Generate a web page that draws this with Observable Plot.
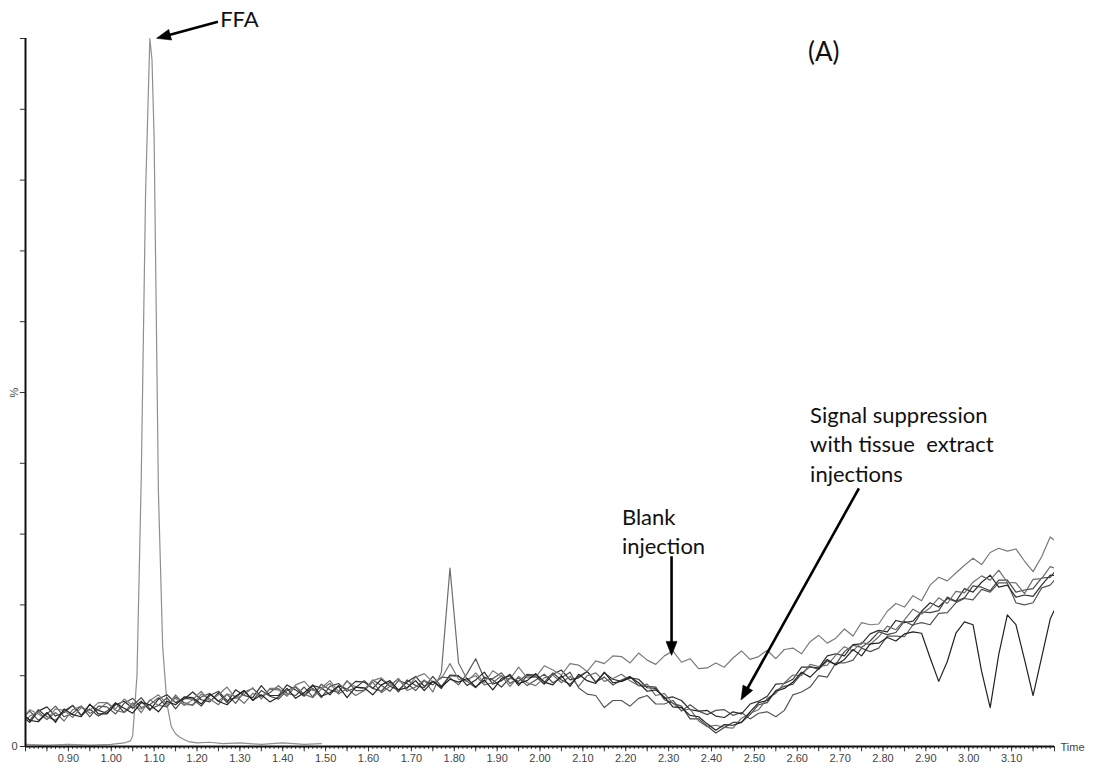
<!DOCTYPE html>
<html>
<head>
<meta charset="utf-8">
<script src="https://cdn.jsdelivr.net/npm/d3@7"></script>
<script src="https://cdn.jsdelivr.net/npm/@observablehq/plot@0.6"></script>
<style>
  html, body { margin: 0; padding: 0; background: #fff; }
  #chart { width: 1094px; height: 771px; }
</style>
</head>
<body>
<div id="chart"></div>
<script>
// ---- sampling grid of the traces (min) ----
const startTime = 0.79;
const timeStep = 0.02;

// ---- FFA standard trace (time, %) ----
const ffaTime = [0.80, 0.85, 0.90, 0.95, 1.00, 1.03, 1.045, 1.05, 1.06, 1.07, 1.08, 1.09, 1.095, 1.10, 1.11, 1.12, 1.13, 1.14, 1.15, 1.16, 1.17, 1.18, 1.20, 1.23, 1.26, 1.30, 1.35, 1.40, 1.45, 1.49];
const ffaValue = [0.3, 0.2, 0.3, 0.2, 0.3, 0.5, 0.8, 1.5, 10, 38, 78, 100, 97, 86, 36, 14, 6, 2.8, 1.8, 1.3, 1.0, 0.7, 0.5, 0.6, 0.4, 0.5, 0.3, 0.5, 0.3, 0.4];

// ---- post-column infusion traces (%), one value per sampling step ----
const blankInjection = [
  3.7, 5.2, 4.6, 3.8, 5.3, 5.1, 4.1, 5.5, 5.1, 6.2,
  6.2, 5.3, 6.7, 5.8, 5.3, 6.5, 7.3, 6.0, 6.8, 5.8,
  6.6, 7.8, 6.4, 7.3, 8.4, 6.8, 7.3, 8.3, 6.7, 8.2,
  8.2, 7.2, 8.7, 9.2, 7.9, 8.3, 9.3, 7.8, 9.2, 8.4,
  8.1, 9.3, 9.7, 8.6, 9.6, 8.2, 9.8, 10.3, 9.1, 9.6,
  11.7, 9.5, 9.2, 10.4, 9.0, 10.7, 9.9, 9.5, 11.2, 9.7,
  9.8, 11.4, 10.8, 10.1, 11.7, 11.5, 10.6, 12.1, 11.7, 12.8,
  12.7, 11.8, 13.2, 12.2, 11.6, 12.8, 13.5, 11.9, 12.4, 11.0,
  11.1, 11.8, 11.2, 12.5, 13.5, 12.3, 12.7, 13.6, 12.4, 13.7,
  13.9, 13.1, 14.8, 15.7, 14.6, 15.3, 16.6, 15.6, 17.5, 17.2,
  17.3, 19.1, 20.2, 19.7, 21.3, 20.6, 22.8, 23.9, 23.4, 24.5,
  25.6, 26.6, 25.7, 27.4, 28.0, 27.6, 27.9, 26.2, 24.7, 26.8, 29.6, 28.6
];
const tissuePeak = [
  3.1, 4.3, 4.9, 3.8, 4.8, 3.6, 5.2, 5.7, 4.7, 5.2,
  6.2, 5.1, 4.8, 6.2, 4.8, 6.6, 5.8, 5.6, 7.3, 5.9,
  5.9, 7.4, 6.7, 5.9, 7.4, 7.1, 6.1, 7.5, 7.0, 8.1,
  8.0, 7.1, 8.5, 7.4, 6.9, 8.1, 8.9, 7.4, 8.2, 7.2,
  7.9, 9.1, 7.6, 8.5, 9.6, 7.9, 8.4, 9.4, 7.7, 10.5,
  25.2, 11.8, 9.5, 10.0, 8.7, 9.0, 10.0, 8.5, 9.9, 9.0,
  8.6, 9.7, 10.1, 9.0, 9.9, 8.5, 10.0, 10.4, 9.2, 9.6,
  10.2, 9.3, 8.6, 8.8, 7.2, 7.5, 6.1, 5.1, 5.3, 3.6,
  2.8, 3.0, 2.7, 2.6, 4.0, 4.7, 5.2, 6.8, 7.5, 9.0,
  10.1, 10.0, 11.6, 11.3, 11.5, 12.9, 14.1, 13.5, 14.7, 14.4,
  15.5, 17.0, 16.5, 17.9, 19.4, 18.7, 19.6, 21.0, 20.2, 21.9,
  21.7, 23.2, 24.1, 23.5, 24.9, 23.2, 23.1, 21.6, 23.6, 23.7, 25.4, 25.0
];
const tissueDips = [
  4.8, 3.7, 3.5, 4.8, 3.4, 5.3, 4.5, 4.2, 6.0, 4.6,
  4.6, 6.1, 5.4, 4.7, 6.2, 5.9, 4.9, 6.4, 5.9, 7.0,
  6.9, 6.0, 7.4, 6.4, 5.9, 7.1, 7.9, 6.5, 7.3, 6.3,
  7.0, 8.2, 6.8, 7.6, 8.7, 7.1, 7.6, 8.5, 6.9, 8.4,
  8.3, 7.3, 8.7, 9.3, 8.0, 8.3, 9.3, 7.9, 9.2, 8.4,
  9.5, 9.1, 9.6, 8.4, 9.4, 8.0, 9.6, 10.0, 8.9, 9.3,
  10.3, 9.1, 8.7, 10.0, 8.5, 10.2, 9.3, 8.9, 10.5, 9.0,
  9.2, 9.8, 9.0, 7.8, 8.0, 7.0, 5.6, 5.5, 4.4, 4.2,
  3.2, 2.3, 3.1, 3.0, 3.4, 4.9, 6.2, 6.5, 7.8, 8.2,
  9.1, 10.5, 9.8, 11.0, 12.3, 11.5, 12.3, 13.7, 12.8, 14.5,
  14.6, 15.4, 14.9, 15.9, 16.2, 16.0, 12.5, 9.2, 12.0, 16.0,
  17.6, 17.2, 10.6, 5.5, 13.0, 18.6, 17.2, 12.3, 7.2, 12.6, 18.0, 20.6
];
const tissueOffset = [
  3.8, 5.0, 3.7, 4.6, 5.7, 4.2, 4.7, 5.7, 4.2, 5.7,
  5.6, 4.6, 6.1, 6.8, 5.5, 5.9, 6.9, 5.6, 7.0, 6.2,
  5.8, 7.0, 7.5, 6.4, 7.4, 6.1, 7.7, 8.2, 7.1, 7.6,
  8.6, 7.5, 7.2, 8.4, 7.0, 8.8, 8.0, 7.6, 9.3, 7.9,
  7.9, 9.4, 8.6, 7.8, 9.3, 8.9, 7.9, 9.3, 8.7, 9.8,
  9.7, 8.7, 10.3, 12.4, 9.6, 9.6, 10.4, 8.9, 9.7, 8.6,
  9.4, 10.2, 9.0, 9.7, 10.5, 8.3, 7.4, 7.2, 5.5, 6.5,
  6.5, 5.7, 6.8, 7.2, 6.0, 6.0, 6.5, 5.0, 5.9, 5.0,
  4.5, 5.1, 5.2, 4.4, 4.8, 3.9, 4.7, 4.9, 4.2, 5.1,
  7.3, 7.7, 8.4, 10.0, 9.8, 11.8, 11.8, 12.2, 13.9, 13.4,
  13.9, 15.6, 15.6, 15.5, 17.2, 17.5, 17.2, 18.8, 18.9, 20.3,
  20.9, 20.7, 22.2, 21.8, 23.1, 23.1, 20.3, 20.0, 20.3, 22.4, 22.8, 24.2
];
const tissueShallow = [
  4.4, 3.4, 5.0, 5.6, 4.3, 4.8, 5.8, 4.4, 5.9, 5.1,
  4.7, 5.9, 6.4, 5.4, 6.4, 5.1, 6.7, 7.3, 6.2, 6.7,
  7.7, 6.6, 6.3, 7.6, 6.2, 8.0, 7.2, 6.9, 8.6, 7.2,
  7.2, 8.7, 8.0, 7.1, 8.6, 8.3, 7.3, 8.6, 8.1, 9.2,
  9.1, 8.2, 9.5, 8.5, 8.0, 9.1, 9.9, 8.5, 9.2, 8.2,
  10.1, 10.0, 8.6, 9.4, 10.5, 8.8, 9.3, 10.2, 8.6, 10.0,
  9.9, 8.8, 10.2, 10.8, 9.4, 9.7, 10.6, 9.1, 10.4, 9.5,
  9.2, 9.7, 9.5, 8.3, 8.2, 6.8, 7.0, 6.5, 5.2, 5.0,
  5.1, 4.3, 4.1, 4.9, 4.6, 6.0, 6.4, 7.1, 8.8, 8.9,
  9.5, 11.2, 11.2, 11.1, 12.8, 13.1, 12.8, 14.4, 14.5, 15.9,
  16.4, 16.2, 17.8, 17.5, 17.7, 19.1, 20.3, 19.7, 20.9, 20.5,
  22.3, 21.8, 23.2, 24.2, 22.5, 22.8, 21.1, 21.4, 21.2, 22.8, 24.2, 24.1
];
const tissueDeep = [
  4.6, 3.7, 5.2, 4.2, 3.7, 5.0, 5.8, 4.4, 5.3, 4.3,
  5.0, 6.2, 4.8, 5.8, 6.9, 5.3, 5.8, 6.9, 5.3, 6.8,
  6.7, 5.7, 7.2, 7.8, 6.5, 6.9, 7.9, 6.5, 7.9, 7.1,
  6.7, 7.9, 8.4, 7.2, 8.2, 6.9, 8.5, 8.9, 7.8, 8.3,
  9.3, 8.2, 7.8, 9.1, 7.7, 9.4, 8.6, 8.3, 9.9, 8.5,
  10.0, 9.9, 9.2, 8.3, 9.8, 9.4, 8.4, 9.7, 9.2, 10.2,
  10.1, 9.1, 10.4, 9.4, 8.8, 9.9, 10.6, 9.1, 9.8, 8.7,
  9.4, 9.9, 8.6, 8.5, 8.4, 6.6, 6.1, 5.7, 3.9, 3.9,
  2.9, 1.9, 2.7, 3.4, 3.4, 4.5, 5.9, 6.2, 7.9, 8.5,
  8.8, 10.3, 11.3, 10.9, 12.1, 11.6, 13.4, 14.3, 14.0, 14.9,
  16.2, 15.8, 16.1, 17.7, 17.1, 19.0, 18.9, 19.2, 21.1, 20.5,
  21.0, 22.7, 22.5, 22.0, 23.5, 23.5, 21.8, 22.1, 22.3, 23.8, 23.9, 25.4
];

// ---- axis tick labels ----
const xTickLabels = ["0.90", "1.00", "1.10", "1.20", "1.30", "1.40", "1.50", "1.60", "1.70", "1.80", "1.90",
  "2.00", "2.10", "2.20", "2.30", "2.40", "2.50", "2.60", "2.70", "2.80", "2.90", "3.00", "3.10"];
const xAxisTitle = "Time";
const yTickValues = [0, 10, 20, 30, 40, 50, 60, 70, 80, 90, 100];
const yZeroLabel = "0";
const yAxisTitle = "%";

// ---- annotations (anchored in data units: time, %) ----
const labelTexts = ["FFA", "Blank\ninjection", "Signal suppression\nwith tissue  extract\ninjections"];
const labelTimes = [1.254, 2.191, 2.630];
const labelPercents = [103.0, 30.6, 42.9];
const panelLabel = "(A)";
const panelTime = 2.625, panelPercent = 98.0;
const arrowFromTime = [1.250, 2.308, 2.745];
const arrowFromPercent = [102.3, 26.8, 36.4];
const arrowToTime = [1.107, 2.308, 2.470];
const arrowToPercent = [99.95, 12.8, 6.5];

// ---- build tables ----
const ffaRows = ffaTime.map((t, i) => ({t, v: ffaValue[i]}));
const toRows = (values) => values.map((v, i) => ({t: +(startTime + i * timeStep).toFixed(3), v}));
const traceDefs = [
  {values: tissueOffset, color: "#555555"},
  {values: tissueShallow, color: "#2e2e2e"},
  {values: tissueDeep, color: "#444444"},
  {values: tissuePeak, color: "#6e6e6e"},
  {values: blankInjection, color: "#7a7a7a"},
  {values: tissueDips, color: "#222222"}
];
const labels = labelTexts.map((text, i) => ({text, t: labelTimes[i], p: labelPercents[i]}));
const arrows = arrowFromTime.map((t1, i) => ({t1, p1: arrowFromPercent[i], t2: arrowToTime[i], p2: arrowToPercent[i]}));

const minorTicks = d3.range(80, 321, 1).map(d => d / 100);
const midTicks = d3.range(80, 321, 5).map(d => d / 100);

const font = "'Liberation Sans', Arial, sans-serif";
const annoFont = "Lato, 'Open Sans', sans-serif";

// arrows with filled heads, placed through the plot's own x/y scales
function filledArrows(index, scales) {
  const g = d3.create("svg:g").attr("fill", "#000").attr("stroke", "#000");
  arrows.forEach(a => {
    const x1 = scales.x(a.t1), y1 = scales.y(a.p1), x2 = scales.x(a.t2), y2 = scales.y(a.p2);
    const ang = Math.atan2(y2 - y1, x2 - x1);
    const len = 14, half = 5.5;
    const bx = x2 - len * Math.cos(ang), by = y2 - len * Math.sin(ang);
    const px = -Math.sin(ang) * half, py = Math.cos(ang) * half;
    g.append("line").attr("x1", x1).attr("y1", y1).attr("x2", bx + 2 * Math.cos(ang)).attr("y2", by + 2 * Math.sin(ang)).attr("stroke-width", 2.6);
    g.append("path").attr("d", `M${x2},${y2}L${bx + px},${by + py}L${bx - px},${by - py}Z`).attr("stroke-width", 0.6).attr("stroke-linejoin", "miter");
  });
  return g.node();
}

const chart = Plot.plot({
  width: 1094,
  height: 771,
  marginLeft: 25,
  marginRight: 40,
  marginTop: 38,
  marginBottom: 25,
  x: {domain: [0.80, 3.20], axis: null},
  y: {domain: [0, 100], axis: null},
  style: {background: "#fff", overflow: "visible"},
  marks: [
    Plot.line(ffaRows, {x: "t", y: "v", stroke: "#8f8f8f", strokeWidth: 1.2}),
    ...traceDefs.map(d => Plot.line(toRows(d.values), {x: "t", y: "v", stroke: d.color, strokeWidth: 1.2, clip: true})),
    // x axis
    Plot.ruleX(minorTicks, {y1: 0, y2: -0.42, stroke: "#444", strokeWidth: 1}),
    Plot.ruleX(midTicks, {y1: 0, y2: -0.75, stroke: "#333", strokeWidth: 1}),
    Plot.ruleY([0], {x1: 0.80, x2: 3.20, stroke: "#111", strokeWidth: 2}),
    Plot.text(xTickLabels, {x: d => +d, y: 0, dy: 12, text: d => d, fontSize: 11, fill: "#444", fontFamily: font}),
    Plot.text([xAxisTitle], {x: 3.20, y: 0, dx: 6, dy: 1, text: d => d, textAnchor: "start", fontSize: 11, fill: "#444", fontFamily: font}),
    // y axis
    Plot.ruleX([0.80], {y1: 0, y2: 100, stroke: "#111", strokeWidth: 2}),
    Plot.ruleY(yTickValues, {x1: 0.788, x2: 0.80, stroke: "#333", strokeWidth: 1}),
    Plot.text([yZeroLabel], {x: 0.80, y: 0, dx: -11, text: d => d, fontSize: 11, fill: "#444", fontFamily: font}),
    Plot.text([yAxisTitle], {x: 0.80, y: 50, dx: -11, text: d => d, rotate: -90, fontSize: 11, fill: "#444", fontFamily: font}),
    // annotations
    filledArrows,
    Plot.text(labels, {x: "t", y: "p", text: "text", textAnchor: "start", lineHeight: 1.35, fontSize: 22, fill: "#111", fontFamily: annoFont}),
    Plot.text([panelLabel], {x: panelTime, y: panelPercent, text: d => d, textAnchor: "start", fontSize: 26, fill: "#111", fontFamily: annoFont})
  ]
});
document.getElementById("chart").appendChild(chart);
</script>
</body>
</html>
